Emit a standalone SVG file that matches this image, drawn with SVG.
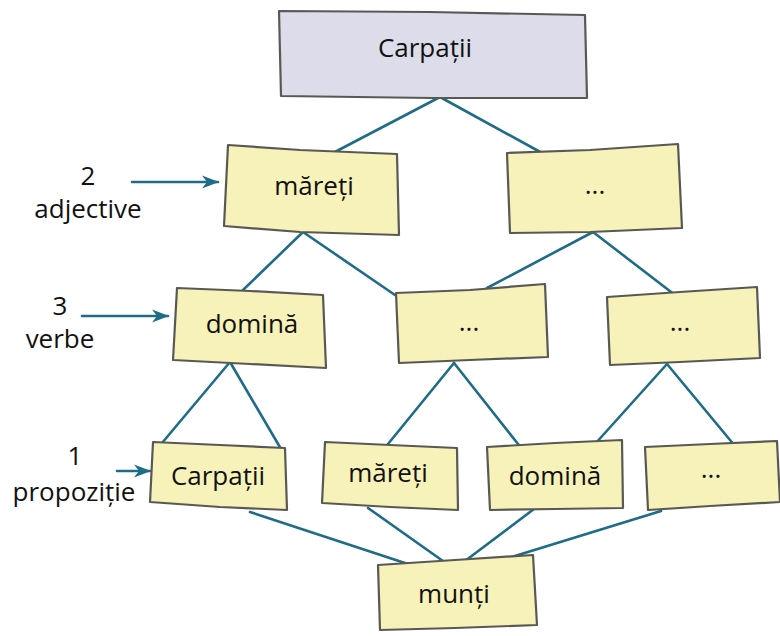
<svg xmlns="http://www.w3.org/2000/svg" width="780" height="636" viewBox="0 0 780 636">
<defs>
<style>
.box{fill:#f6f2b9;stroke:#595954;stroke-width:2.2;stroke-linejoin:round}
.top{fill:#dcdcea}
.t{font-family:"Open Sans","Noto Sans",sans-serif;font-size:26px;fill:#111;text-anchor:middle}
.c{stroke:#1f6c89;stroke-width:2.6;fill:none;stroke-linecap:round}
</style>
<marker id="ah" markerUnits="userSpaceOnUse" markerWidth="18" markerHeight="14" refX="16" refY="7" orient="auto">
<path d="M0,0.5 L17,7 L0,13.5 L5,7 Z" fill="#1f6c89"/>
</marker>
</defs>
<rect width="780" height="636" fill="#fff"/>
<g id="connectors">
<line class="c" x1="440" y1="97" x2="333" y2="153"/>
<line class="c" x1="440" y1="97" x2="542" y2="153"/>
<line class="c" x1="303" y1="232" x2="243" y2="290"/>
<line class="c" x1="303" y1="232" x2="395" y2="295"/>
<line class="c" x1="593" y1="232" x2="487" y2="288"/>
<line class="c" x1="593" y1="232" x2="675" y2="295"/>
<line class="c" x1="230" y1="362" x2="162" y2="443"/>
<line class="c" x1="230" y1="362" x2="281" y2="449"/>
<line class="c" x1="454" y1="363" x2="388" y2="444"/>
<line class="c" x1="454" y1="363" x2="522" y2="449"/>
<line class="c" x1="667" y1="364" x2="595" y2="444"/>
<line class="c" x1="667" y1="364" x2="735" y2="446"/>
<line class="c" x1="250" y1="512" x2="414" y2="566"/>
<line class="c" x1="368" y1="508" x2="450" y2="566"/>
<line class="c" x1="534" y1="509" x2="461" y2="564"/>
<line class="c" x1="661" y1="511" x2="505" y2="559"/>
<line class="c" x1="132" y1="182" x2="218" y2="182" marker-end="url(#ah)"/>
<line class="c" x1="82" y1="316" x2="168" y2="316" marker-end="url(#ah)"/>
<line class="c" x1="117" y1="471" x2="150" y2="471" marker-end="url(#ah)"/>
</g>
<g id="n-root">
<path class="box top" d="M279,11 L430,12 L585,15 L587,98 L432,98 L281,96 Z"/>
<text class="t" x="425" y="57">Carpații</text>
</g>
<g id="n-adj1">
<path class="box" d="M228,145 L300,150 L397,154 L399,235 L300,232 L224,226 Z"/>
<text class="t" x="314" y="195">măreți</text>
</g>
<g id="n-adj2">
<path class="box" d="M507,153 L590,150 L678,144 L682,228 L590,232 L510,233 Z"/>
<text class="t" x="595" y="194">...</text>
</g>
<g id="n-verb1">
<path class="box" d="M177,288 L250,291 L323,295 L326,368 L250,364 L173,360 Z"/>
<text class="t" x="252" y="333">domină</text>
</g>
<g id="n-verb2">
<path class="box" d="M396,293 L470,290 L545,284 L548,357 L470,360 L399,363 Z"/>
<text class="t" x="469" y="331">...</text>
</g>
<g id="n-verb3">
<path class="box" d="M607,297 L680,292 L757,287 L760,358 L680,362 L610,365 Z"/>
<text class="t" x="680" y="331">...</text>
</g>
<g id="n-p1">
<path class="box" d="M153,442 L220,445 L285,448 L287,510 L220,507 L150,502 Z"/>
<text class="t" x="218" y="485">Carpații</text>
</g>
<g id="n-p2">
<path class="box" d="M325,442 L390,445 L457,448 L458,510 L390,507 L322,503 Z"/>
<text class="t" x="388" y="482">măreți</text>
</g>
<g id="n-p3">
<path class="box" d="M487,447 L555,443 L622,440 L623,508 L555,509 L490,510 Z"/>
<text class="t" x="555" y="485">domină</text>
</g>
<g id="n-p4">
<path class="box" d="M645,447 L710,444 L777,441 L780,502 L710,506 L648,510 Z"/>
<text class="t" x="711" y="478">...</text>
</g>
<g id="n-munti">
<path class="box" d="M378,565 L455,560 L533,555 L537,625 L455,628 L380,630 Z"/>
<text class="t" x="454" y="603">munți</text>
</g>
<g id="labels">
<text class="t" x="88" y="185">2</text>
<text class="t" x="88" y="218">adjective</text>
<text class="t" x="60" y="315">3</text>
<text class="t" x="60" y="348">verbe</text>
<text class="t" x="75" y="465">1</text>
<text class="t" x="74" y="501">propoziție</text>
</g>
</svg>
